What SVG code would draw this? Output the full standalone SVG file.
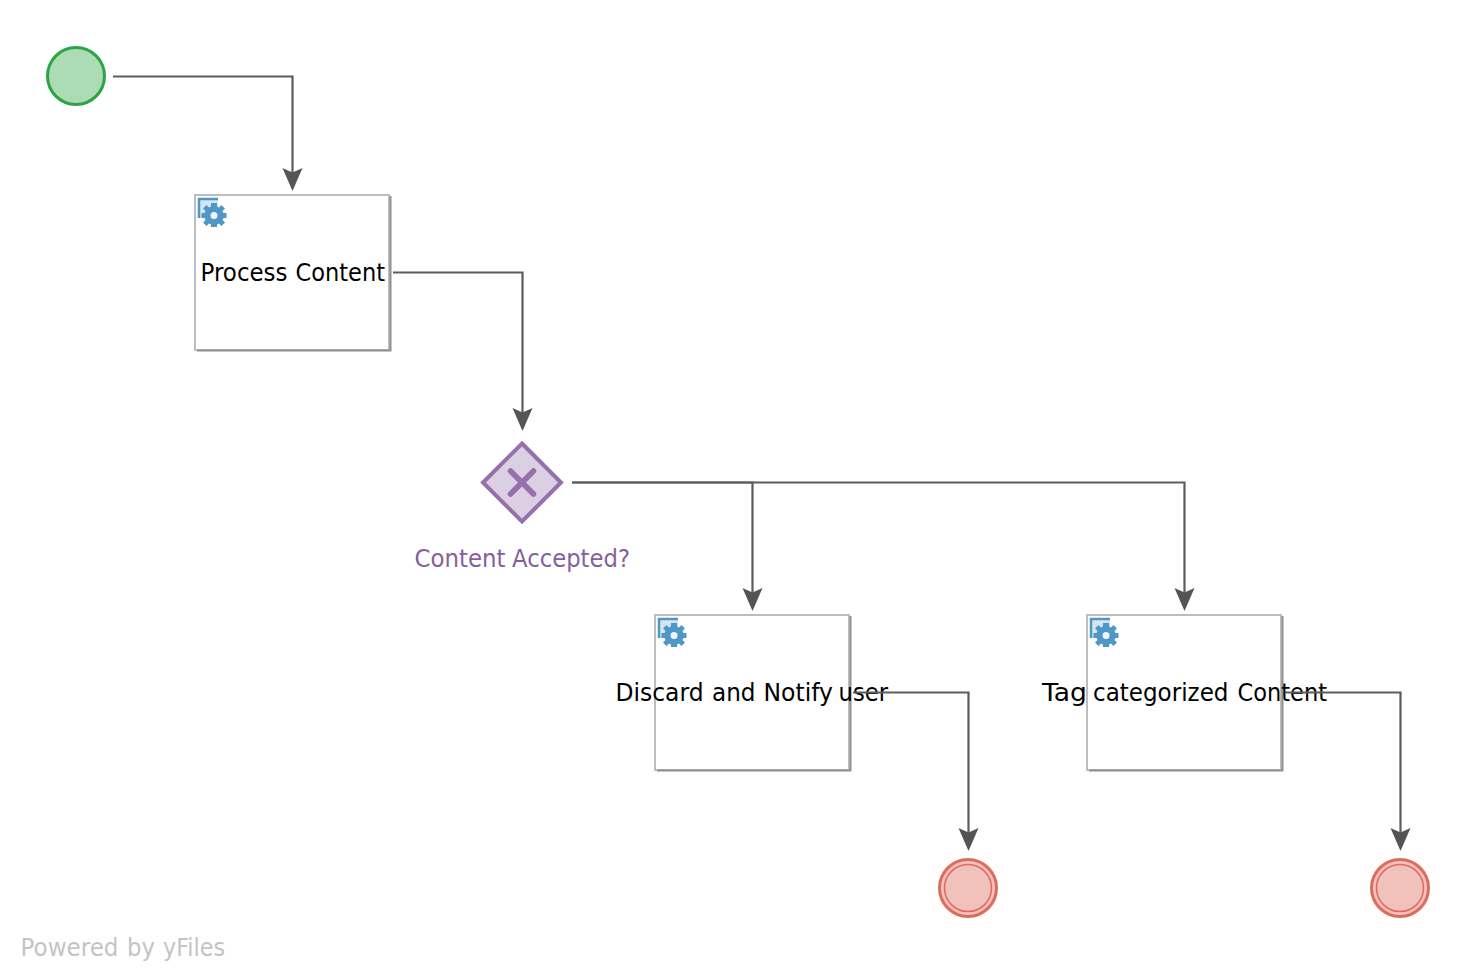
<svg xmlns="http://www.w3.org/2000/svg" width="1476" height="980" viewBox="0 0 1476 980">
<style>
text{font-family:"DejaVu Sans","Liberation Sans",sans-serif;font-size:24px}
.edge{fill:none;stroke:#5c5c5c;stroke-width:2.200}
.task{fill:#fff;stroke:#bdbdbd;stroke-width:2}
.shadow{fill:none;stroke:#8f8f8f;stroke-width:2}
.end{fill:#f2c1bc;stroke:#dd6b60;stroke-width:3}
.end2{fill:none;stroke:#dd6b60;stroke-width:1.5}
</style>
<defs>
<marker id="arrow" markerUnits="userSpaceOnUse" markerWidth="26" markerHeight="24" refX="20" refY="11" orient="auto"><path d="M0,1L23,11L0,21L4.500,11Z" fill="#555"/></marker>
<g id="gear">
<path d="M4,4H23V17H16V23H4Z" fill="#d5e6f2"/>
<path d="M4,23V4H23" fill="none" stroke="#4f97c5" stroke-width="2.500"/>
<path d="M16,8H22V11.500L24,12.500L26.500,10L30,13.500L27.500,16L28.500,18H31.500V23H28.500L27.500,25L30,27.500L26.500,31L24,28.500L22,29.500V32H16V29.500L14,28.500L11.500,31L8,27.500L10.500,25L9.500,23H6.500V18H9.500L10.500,16L8,13.500L11.500,10L14,12.500L16,11.500Z" fill="#4f97c5"/>
<circle cx="19" cy="20.500" r="3.500" fill="#eef5fa"/>
</g>
</defs>
<g id="connectors">
<path class="edge" marker-end="url(#arrow)" d="M113,76.500H292.500V188"/>
<path class="edge" marker-end="url(#arrow)" d="M393,272.500H522.500V428"/>
<path class="edge" marker-end="url(#arrow)" d="M572,482.500H752.500V608"/>
<path class="edge" marker-end="url(#arrow)" d="M572,482.500H1184.500V608"/>
</g>
<g id="start"><circle cx="76" cy="76" r="28.500" fill="#acdcb3" stroke="#2ba445" stroke-width="3"/></g>
<g id="task1"><rect class="task" x="195" y="195" width="194" height="155"/><path class="shadow" d="M390.500,196V350.500H197"/><use href="#gear" x="195" y="195"/><text y="281"><tspan x="200.500" textLength="87" lengthAdjust="spacingAndGlyphs">Process</tspan> <tspan x="295.500" textLength="89.500" lengthAdjust="spacingAndGlyphs">Content</tspan></text></g>
<g id="gateway"><path d="M522,443.500L561,482.500L522,521.500L483,482.500Z" fill="#dacfe3" stroke="#9670ad" stroke-width="4"/><path d="M510.500,471L533.500,494M533.500,471L510.500,494" stroke="#9670ad" stroke-width="5.500" stroke-linecap="round"/></g>
<text id="gateway-label" y="566.500" fill="#84609c"><tspan x="414.500" textLength="91" lengthAdjust="spacingAndGlyphs">Content</tspan> <tspan x="512" textLength="118" lengthAdjust="spacingAndGlyphs">Accepted?</tspan></text>
<g id="task2"><rect class="task" x="655" y="615" width="194" height="155"/><path class="shadow" d="M850.500,616V770.500H657"/><use href="#gear" x="655" y="615"/><text y="701"><tspan x="615.500" textLength="88" lengthAdjust="spacingAndGlyphs">Discard</tspan> <tspan x="712" textLength="43.500" lengthAdjust="spacingAndGlyphs">and</tspan> <tspan x="763.500" textLength="69.500" lengthAdjust="spacingAndGlyphs">Notify</tspan> <tspan x="838.500" textLength="49.500" lengthAdjust="spacingAndGlyphs">user</tspan></text></g>
<g id="task3"><rect class="task" x="1087" y="615" width="194" height="155"/><path class="shadow" d="M1282.500,616V770.500H1089"/><use href="#gear" x="1087" y="615"/><text y="701"><tspan x="1042" textLength="45" lengthAdjust="spacingAndGlyphs">Tag</tspan> <tspan x="1093" textLength="135.500" lengthAdjust="spacingAndGlyphs">categorized</tspan> <tspan x="1237.500" textLength="89.500" lengthAdjust="spacingAndGlyphs">Content</tspan></text></g>
<g id="connectors-top">
<path class="edge" marker-end="url(#arrow)" d="M853,692.500H968.500V848"/>
<path class="edge" marker-end="url(#arrow)" d="M1285,692.500H1400.500V848"/>
</g>
<g id="end1"><circle class="end" cx="968" cy="888" r="28.500"/><circle class="end2" cx="968" cy="888" r="23.500"/></g>
<g id="end2"><circle class="end" cx="1400" cy="888" r="28.500"/><circle class="end2" cx="1400" cy="888" r="23.500"/></g>
<text id="watermark" y="956" fill="#c4c4c4"><tspan x="20.500" textLength="98" lengthAdjust="spacingAndGlyphs">Powered</tspan> <tspan x="127" textLength="28" lengthAdjust="spacingAndGlyphs">by</tspan> <tspan x="163" textLength="62" lengthAdjust="spacingAndGlyphs">yFiles</tspan></text>
</svg>
